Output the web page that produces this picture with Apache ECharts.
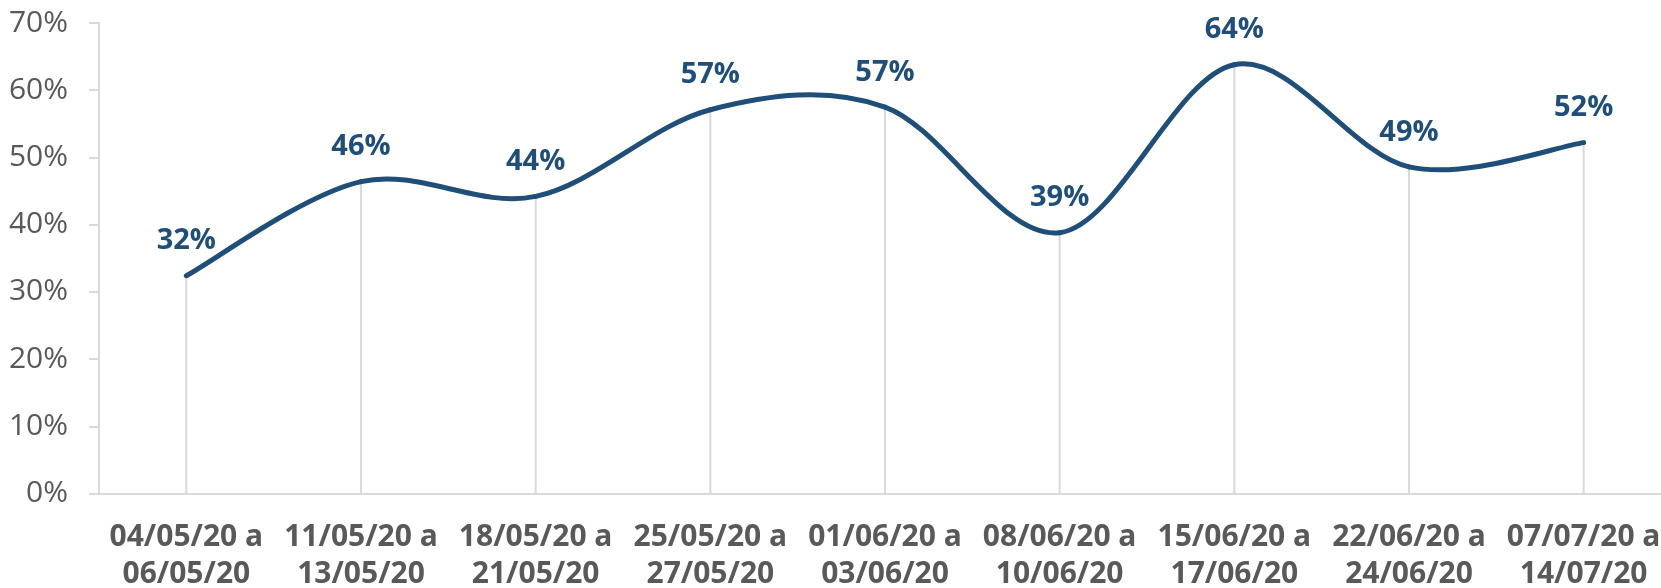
<!DOCTYPE html>
<html>
<head>
<meta charset="utf-8">
<script src="https://cdn.jsdelivr.net/npm/echarts@6/dist/echarts.min.js"></script>
<style>
html,body{margin:0;padding:0;background:#fff;}
#chart{width:1661px;height:588px;}
</style>
</head>
<body>
<div id="chart"></div>
<script>
const categories = [
  "04/05/20 a\n06/05/20",
  "11/05/20 a\n13/05/20",
  "18/05/20 a\n21/05/20",
  "25/05/20 a\n27/05/20",
  "01/06/20 a\n03/06/20",
  "08/06/20 a\n10/06/20",
  "15/06/20 a\n17/06/20",
  "22/06/20 a\n24/06/20",
  "07/07/20 a\n14/07/20"
];
const values = [32.4, 46.4, 44.2, 57.1, 57.5, 38.8, 63.8, 48.6, 52.2];
const labels = ["32%", "46%", "44%", "57%", "57%", "39%", "64%", "49%", "52%"];
const yTicks = { min: 0, max: 70, interval: 10 };

const LINE_COLOR = '#1F4E79';
const font = "'Open Sans', sans-serif";
const chart = echarts.init(document.getElementById('chart'));

// Excel-style smoothing (Catmull-Rom -> cubic Bezier), computed in pixel space via api.coord
function renderSegment(params, api) {
  const i = params.dataIndex;
  const n = values.length;
  if (i >= n - 1) return null;
  const pt = k => api.coord([Math.max(0, Math.min(n - 1, k)), values[Math.max(0, Math.min(n - 1, k))]]);
  const p0 = pt(i - 1), p1 = pt(i), p2 = pt(i + 1), p3 = pt(i + 2);
  return {
    type: 'bezierCurve',
    shape: {
      x1: p1[0], y1: p1[1],
      x2: p2[0], y2: p2[1],
      cpx1: p1[0] + (p2[0] - p0[0]) / 6, cpy1: p1[1] + (p2[1] - p0[1]) / 6,
      cpx2: p2[0] - (p3[0] - p1[0]) / 6, cpy2: p2[1] - (p3[1] - p1[1]) / 6
    },
    style: { stroke: LINE_COLOR, lineWidth: 5, fill: null, lineCap: 'round', lineJoin: 'round' }
  };
}

chart.setOption({
  animation: false,
  grid: { left: 99, top: 23, width: 1572, height: 470.5, containLabel: false, outerBoundsMode: 'none' },
  xAxis: {
    type: 'category',
    data: categories,
    boundaryGap: true,
    axisLine: { lineStyle: { color: '#d9d9d9', width: 2 } },
    axisTick: { show: false },
    axisLabel: {
      interval: 0,
      margin: 25,
      color: '#595959',
      fontFamily: font,
      fontWeight: 'bold',
      fontSize: 30,
      lineHeight: 37
    },
    splitLine: { show: false }
  },
  yAxis: {
    type: 'value',
    min: yTicks.min, max: yTicks.max, interval: yTicks.interval,
    axisLine: { show: true, lineStyle: { color: '#d9d9d9', width: 2 } },
    axisTick: { show: true, length: 10, lineStyle: { color: '#d9d9d9', width: 2 } },
    axisLabel: {
      formatter: '{value}%',
      margin: 31,
      color: '#595959',
      fontFamily: font,
      fontSize: 30
    },
    splitLine: { show: false }
  },
  series: [
    {
      type: 'bar',
      data: values,
      barWidth: 2,
      silent: true,
      z: 1,
      itemStyle: { color: '#d9d9d9' }
    },
    {
      type: 'custom',
      data: values.map((v, i) => [i, v]),
      renderItem: renderSegment,
      encode: { x: 0, y: 1 },
      silent: true,
      z: 3
    },
    {
      type: 'scatter',
      data: values,
      symbol: 'circle',
      symbolSize: 2,
      itemStyle: { color: LINE_COLOR, opacity: 1 },
      silent: true,
      z: 4,
      label: {
        show: true,
        position: 'top',
        distance: 19,
        formatter: p => labels[p.dataIndex],
        color: LINE_COLOR,
        opacity: 1,
        fontFamily: font,
        fontWeight: 'bold',
        fontSize: 29
      },
      labelLayout: { hideOverlap: false }
    }
  ]
});
</script>
</body>
</html>
